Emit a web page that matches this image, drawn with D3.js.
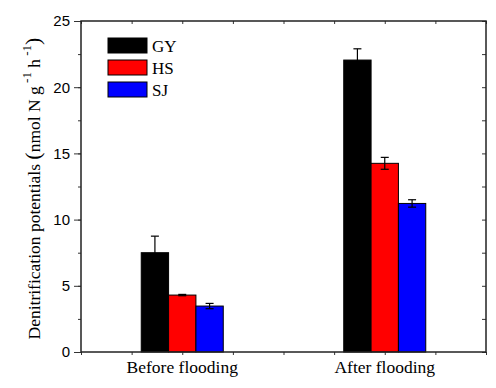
<!DOCTYPE html>
<html>
<head>
<meta charset="utf-8">
<script src="https://cdn.jsdelivr.net/npm/d3@7"></script>
<style>
body { margin: 0; background: #fff; }
</style>
</head>
<body>
<script>
// data
var groups = ["Before flooding", "After flooding"];
var groupPos = [1, 3];
var series = ["GY", "HS", "SJ"];
var colors = ["#000000", "#ff0000", "#0000ff"];
var gyValues = [7.5, 22.05];
var gyErrors = [1.25, 0.85];
var hsValues = [4.3, 14.25];
var hsErrors = [0.05, 0.45];
var sjValues = [3.47, 11.22];
var sjErrors = [0.2, 0.28];
var yTicks = [0, 5, 10, 15, 20, 25];

var width = 496;
var height = 388;
var margin = { top: 21, left: 81, right: 10, bottom: 36 };

var svg = d3.select("body")
  .append("svg")
  .attr("width", width)
  .attr("height", height);

var xScale = d3.scaleLinear()
  .domain([0, 4])
  .range([margin.left, width - margin.right]);

var yScale = d3.scaleLinear()
  .domain([0, 25])
  .range([height - margin.bottom, margin.top]);

var barW = xScale(0.27) - xScale(0);

var data = [];
series.forEach(function(s, si) {
  var vals = [gyValues, hsValues, sjValues][si];
  var errs = [gyErrors, hsErrors, sjErrors][si];
  groups.forEach(function(g, gi) {
    data.push({ s: s, si: si, gi: gi, v: vals[gi], e: errs[gi] });
  });
});

// bars
svg.selectAll("rect.bar").data(data).enter()
  .append("rect")
  .attr("class", "bar")
  .attr("x", function(d) { return xScale(groupPos[d.gi]) + (d.si - 1.5) * barW; })
  .attr("y", function(d) { return yScale(d.v); })
  .attr("width", barW)
  .attr("height", function(d) { return yScale(0) - yScale(d.v); })
  .attr("fill", function(d) { return colors[d.si]; })
  .attr("stroke", "#000")
  .attr("stroke-width", 1);

// error bars (upper and lower)
var eb = svg.selectAll("g.err").data(data).enter().append("g").attr("class", "err")
  .attr("stroke", "#000").attr("stroke-width", 1.2);
eb.append("line")
  .attr("x1", function(d) { return xScale(groupPos[d.gi]) + (d.si - 1) * barW; })
  .attr("x2", function(d) { return xScale(groupPos[d.gi]) + (d.si - 1) * barW; })
  .attr("y1", function(d) { return yScale(d.v - d.e); })
  .attr("y2", function(d) { return yScale(d.v + d.e); });
[1, -1].forEach(function(sg) {
  eb.append("line")
    .attr("x1", function(d) { return xScale(groupPos[d.gi]) + (d.si - 1) * barW - 4; })
    .attr("x2", function(d) { return xScale(groupPos[d.gi]) + (d.si - 1) * barW + 4; })
    .attr("y1", function(d) { return yScale(d.v + sg * d.e); })
    .attr("y2", function(d) { return yScale(d.v + sg * d.e); });
});

// axes
var x0 = xScale(0), x1 = xScale(4), y0 = yScale(0), y1 = yScale(25);
var xTickVals = d3.range(0, 4.01, 0.5);
var yMinor = d3.range(0, 25.01, 2.5);

svg.append("g")
  .attr("transform", `translate(0,${y0})`)
  .call(d3.axisBottom(xScale).tickValues(xTickVals).tickSize(3).tickFormat(""))
  .call(function(g) { g.select(".domain").remove(); });
svg.append("g")
  .attr("transform", `translate(0,${y1})`)
  .call(d3.axisBottom(xScale).tickValues(xTickVals).tickSize(3).tickFormat(""))
  .call(function(g) { g.select(".domain").remove(); });

svg.append("g")
  .attr("transform", `translate(${x0},0)`)
  .call(d3.axisLeft(yScale).tickValues(yMinor).tickSize(3).tickFormat(""))
  .call(function(g) { g.select(".domain").remove(); });
svg.append("g")
  .attr("transform", `translate(${x0},0)`)
  .call(d3.axisLeft(yScale).tickValues(yTicks).tickSize(7).tickPadding(4))
  .call(function(g) {
    g.select(".domain").remove();
    g.selectAll("text").attr("font-family", "Liberation Sans, Arial, sans-serif").attr("font-size", "15px").attr("fill", "#000");
  });
svg.append("g")
  .attr("transform", `translate(${x1},0)`)
  .call(d3.axisLeft(yScale).tickValues(yMinor).tickSize(4).tickFormat(""))
  .call(function(g) { g.select(".domain").remove(); });

svg.selectAll(".tick line").attr("stroke", "#333");

svg.append("rect")
  .attr("x", x0).attr("y", y1)
  .attr("width", x1 - x0).attr("height", y0 - y1)
  .attr("fill", "none").attr("stroke", "#222").attr("stroke-width", 1.5);

// category labels
svg.selectAll("text.cat").data(groups).enter()
  .append("text")
  .attr("class", "cat")
  .attr("x", function(d, i) { return xScale(groupPos[i]); })
  .attr("y", y0 + 21)
  .attr("text-anchor", "middle")
  .attr("font-family", "Liberation Serif, Times New Roman, serif")
  .attr("font-size", "17.5px")
  .text(function(d) { return d; });

// y label
var yl = svg.append("text")
  .attr("transform", "translate(40," + ((y0 + y1) / 2 + 2) + ") rotate(-90)")
  .attr("text-anchor", "middle")
  .attr("font-family", "Liberation Serif, Times New Roman, serif")
  .attr("font-size", "17.5px");
yl.append("tspan").text("Denitrification potentials ");
yl.append("tspan").attr("font-size", "22px").text("(");
yl.append("tspan").text("nmol N g");
yl.append("tspan").attr("dy", -9).attr("font-size", "13px").text(" -1");
yl.append("tspan").attr("dy", 9).text(" h");
yl.append("tspan").attr("dy", -9).attr("font-size", "13px").text(" -1");
yl.append("tspan").attr("dy", 9).attr("font-size", "22px").text(")");

// legend
var leg = svg.selectAll("g.leg").data(series).enter().append("g")
  .attr("class", "leg")
  .attr("transform", function(d, i) { return "translate(108," + (38 + i * 22) + ")"; });
leg.append("rect")
  .attr("width", 39).attr("height", 15)
  .attr("fill", function(d, i) { return colors[i]; })
  .attr("stroke", "#000");
leg.append("text")
  .attr("x", 44).attr("y", 14)
  .attr("font-family", "Liberation Serif, Times New Roman, serif")
  .attr("font-size", "17px")
  .text(function(d) { return d; });
</script>
</body>
</html>
